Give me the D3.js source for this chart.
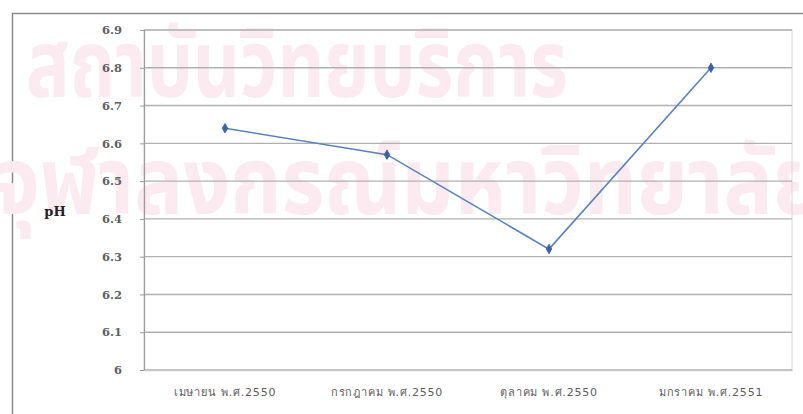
<!DOCTYPE html>
<html>
<head>
<meta charset="utf-8">
<script src="https://cdn.jsdelivr.net/npm/d3@7/dist/d3.min.js"></script>
<style>
  html, body { margin: 0; padding: 0; background: #ffffff; }
  svg { display: block; }
</style>
</head>
<body>
<svg id="chart" width="803" height="414"></svg>
<script>
// Monthly pH readings
const months = ["เมษายน พ.ศ.2550", "กรกฎาคม พ.ศ.2550", "ตุลาคม พ.ศ.2550", "มกราคม พ.ศ.2551"];
const phValues = [6.64, 6.57, 6.32, 6.80];
const yTicks = [6, 6.1, 6.2, 6.3, 6.4, 6.5, 6.6, 6.7, 6.8, 6.9];
const watermarkLines = ["สถาบันวิทยบริการ", "จุฬาลงกรณ์มหาวิทยาลัย"];

const svg = d3.select("#chart");
const W = 803, H = 414;
const plot = { left: 144, right: 792, top: 30, bottom: 370 };

// Outer chart frame (only top and left edges fall inside the view)
svg.append("path")
  .attr("d", `M12.5,${H} L12.5,13.5 L${W},13.5`)
  .attr("fill", "none")
  .attr("stroke", "#8a8a8a")
  .attr("stroke-width", 1.5);

// Library watermark
const wm = svg.append("g")
  .attr("fill", "#fbeaef")
  .attr("font-family", "'Noto Sans Thai', 'Noto Sans', 'DejaVu Sans', sans-serif")
  .attr("font-weight", "bold")
  .attr("font-size", 94);
wm.append("text").attr("x", 26).attr("y", 97)
  .attr("textLength", 542).attr("lengthAdjust", "spacingAndGlyphs")
  .text(watermarkLines[0]);
wm.append("text").attr("x", -6).attr("y", 214)
  .attr("textLength", 830).attr("lengthAdjust", "spacingAndGlyphs")
  .text(watermarkLines[1]);

const x = d3.scaleBand()
  .domain(months)
  .range([plot.left, plot.right])
  .padding(0);

const y = d3.scaleLinear()
  .domain([6, 6.9])
  .range([plot.bottom, plot.top]);

// Plot area frame
svg.append("rect")
  .attr("x", plot.left)
  .attr("y", plot.top)
  .attr("width", plot.right - plot.left)
  .attr("height", plot.bottom - plot.top)
  .attr("fill", "none")
  .attr("stroke", "#dadada")
  .attr("stroke-width", 1);

// Horizontal gridlines
svg.append("g")
  .selectAll("line")
  .data(yTicks)
  .join("line")
  .attr("x1", plot.left)
  .attr("x2", plot.right)
  .attr("y1", d => y(d))
  .attr("y2", d => y(d))
  .attr("stroke", "#b0b0b0")
  .attr("stroke-width", 1.4);

// Y axis
const yAxis = d3.axisLeft(y)
  .tickValues(yTicks)
  .tickSize(4)
  .tickPadding(18)
  .tickFormat(d => d3.format("")(+d.toFixed(1)));
const yg = svg.append("g")
  .attr("transform", `translate(${plot.left},0)`)
  .call(yAxis);
yg.select(".domain").attr("stroke", "#9a9a9a").attr("stroke-width", 1.2);
yg.selectAll(".tick line").attr("stroke", "#9a9a9a");
yg.selectAll(".tick text")
  .attr("fill", "#606060")
  .attr("font-family", "'DejaVu Serif', serif")
  .attr("font-weight", "bold")
  .attr("font-size", 11.5);

// X axis labels
const xAxis = d3.axisBottom(x).tickSize(0).tickPadding(18);
const xg = svg.append("g")
  .attr("transform", `translate(0,${plot.bottom})`)
  .call(xAxis);
xg.select(".domain").attr("stroke", "#c8c8c8").attr("stroke-width", 1.5);
xg.selectAll(".tick text")
  .attr("fill", "#5e5e5e")
  .attr("font-family", "'DejaVu Sans', sans-serif")
  .attr("font-size", 11)
  .attr("letter-spacing", 0.8);

// Axis title
svg.append("text")
  .attr("x", 55)
  .attr("y", 216)
  .attr("text-anchor", "middle")
  .attr("font-family", "'DejaVu Serif', serif")
  .attr("font-weight", "bold")
  .attr("font-size", 13)
  .attr("fill", "#222")
  .text("pH");

// Series line
const cx = d => x(d) + x.bandwidth() / 2;
const series = months.map((m, i) => ({ m, v: phValues[i] }));
svg.append("path")
  .datum(series)
  .attr("fill", "none")
  .attr("stroke", "#5b82bd")
  .attr("stroke-width", 1.6)
  .attr("d", d3.line().x(d => cx(d.m)).y(d => y(d.v)));

// Diamond markers
svg.append("g")
  .selectAll("path")
  .data(series)
  .join("path")
  .attr("transform", d => `translate(${cx(d.m)},${y(d.v)})`)
  .attr("d", d3.symbol().type(d3.symbolDiamond).size(26))
  .attr("fill", "#3a62a3")
  .attr("stroke", "#3a62a3")
  .attr("stroke-width", 0.8);
</script>
</body>
</html>
